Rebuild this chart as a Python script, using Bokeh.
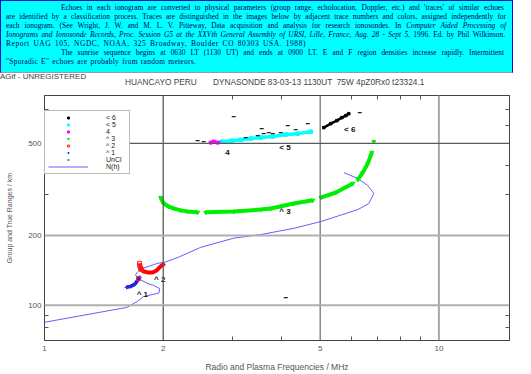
import math
from bokeh.plotting import figure
from bokeh.models import (Div, Span, FixedTicker, LogAxis, Legend, LegendItem,
                          CustomJSTickFormatter)
from bokeh.layouts import column
from bokeh.embed import file_html
from bokeh.resources import INLINE
from bokeh.core.properties import value

NaN = float("nan")

# ---------------- data ----------------
nh_freq = [1.00, 1.62, 1.72, 1.78, 1.95, 1.96, 1.89, 1.83, 1.75, 1.70, 1.72, 1.75, 1.83,
           1.94, 2.01, 2.18, 2.49, 3.02, 3.53, 4.29, 5.02, 6.23, 6.64, 6.84, 6.60, 6.23, 5.74]
nh_height = [84.5, 98, 104, 109, 113, 118, 122, 124, 129, 135, 139, 143, 147,
             152, 153, 161, 178, 195, 202, 215, 230, 259, 275, 304, 329, 353, 374]

t1_freq = [1.615, 1.653, 1.692, 1.722, 1.742]
t1_range = [119.6, 120.7, 123.2, 128, 132]

t2_freq = [1.742, 1.752, 1.783, 1.826, 1.880, 1.924, 1.970, 2.017]
t2_range = [151.7, 144.3, 140, 138.7, 138.7, 141.5, 147.3, 151.7]
t2_pts_freq = [1.742, 1.745, 1.752, 1.760, 1.732]
t2_pts_range = [151.7, 148, 145, 143, 130.7]

t3_freq = [1.970, 2.005, 2.064, 2.125, 2.214, 2.307, 2.445, NaN, 2.563, 3.018, 3.534, 3.747,
           4.285, 4.788, NaN, 5.018, 5.479, 6.05, NaN, 6.23, 6.41, 6.60, 6.76, NaN, 6.84]
t3_range = [292, 275, 267, 262, 257, 254, 252, NaN, 252, 254, 259, 262,
            275, 284, NaN, 292, 307, 336, NaN, 349, 374, 409, 457, NaN, 509]

t4_freq = [2.638, 2.685, 2.749, 2.813]
t4_range = [504, 509, 504, 507]

t5_freq = [2.83, 2.983, 3.145, 3.333, 3.534, 3.79, 4.09, 4.387, 4.733]
t5_range = [509, 514, 518, 525, 530, 535, 546, 551, 562]

t6_freq = [5.107, 5.32, 5.51, 5.674, 5.807, 5.909]
t6_range = [585, 609, 627, 646, 659, 672]

uncl_freq = [2.445, 2.533, 3.018, 3.237, 3.472, 3.554, 3.596, 3.703, 3.79, 3.972, 4.138,
             4.335, 4.651, 6.30, 4.09]
uncl_range = [514, 509, 652, 530, 540, 579, 551, 557, 551, 557, 597, 574, 609, 679, 108]

lab_text = ["< 6", "< 5", "4", "^ 3", "^ 2", "^ 1"]
lab_freq = [5.94, 4.07, 2.91, 4.07, 1.96, 1.77]
lab_range = [574, 480, 457, 254, 129, 111.5]

legend_labels = ["< 6", "< 5", "4", "^ 3", "^ 2", "^ 1", "UnCl", "N(h)"]

x_ticks = [1, 2, 5, 10]
x_minor = [3, 4, 6, 7, 8, 9]
y_ticks = [100, 200, 500]
y_minor = [80, 90, 300, 400, 600, 700]
x_grid = [2, 5, 10]
y_grid = [100, 200, 500]

header_lines = [
    "Echoes in each ionogram are converted to physical parameters (group range, echolocation, Doppler, etc.) and 'traces' of similar echoes",
    "are identified by a classification process. Traces are distinguished in the images below by adjacent trace numbers and colors, assigned independently for",
    "each ionogram. (See Wright, J. W. and M. L. V. Pitteway, Data acquisition and analysis for research ionosondes. In <i>Computer Aided Processing of</i>",
    "<i>Ionograms and Ionosonde Records, Proc. Session G5 at the XXVth General Assembly of URSI, Lille, France, Aug. 28 - Sept 5</i>, 1996. Ed. by Phil Wilkinson.",
    "Report UAG 105, NGDC, NOAA, 325 Broadway, Boulder CO 80303 USA. 1988)",
    "The sunrise sequence begins at 0630 LT (1130 UT) and ends at 0900 LT. E and F region densities increase rapidly. Intermittent",
    "\"Sporadic E\" echoes are probably from random meteors.",
]
# left, right, vertical centre, letter spacing of each header line (px)
header_geom = [(61, 504, 7.4, 0), (6, 506, 16.2, 0), (6, 506, 25.4, 0), (6, 505, 34.5, 0),
               (6, 306, 43.3, 0.6), (61, 504, 52.4, 0), (6, 196, 61.9, 0.3)]

# ---------------- header (HTML) ----------------
parts = ['<div style="position:relative;width:531px;height:87px;margin:0;padding:0;overflow:hidden;">',
         '<div style="position:absolute;left:0;top:0;width:513px;height:73px;box-sizing:border-box;'
         'background:#00ffff;border:1px solid #1010c8;border-bottom-color:#9a9a9a;"></div>']
for txt, (l, r, c, ls) in zip(header_lines, header_geom):
    parts.append(
        f'<div style="position:absolute;left:{l}px;top:{c-4.5:.1f}px;width:{r-l}px;height:9px;'
        f'line-height:9px;white-space:nowrap;text-align:justify;text-align-last:justify;letter-spacing:{ls}px;'
        "font-family:'Liberation Serif',serif;font-size:7.4px;color:#00006e;\">"
        f'{txt}</div>')
parts.append('<div style="position:absolute;left:0;top:72px;line-height:10px;white-space:nowrap;'
             "font-family:'Liberation Sans',sans-serif;font-size:8px;color:#444;\">AGif - UNREGISTERED</div>")
parts.append('<div style="position:absolute;left:125px;top:76.5px;line-height:10px;white-space:nowrap;'
             "font-family:'Liberation Sans',sans-serif;font-size:8.3px;color:#444;\">HUANCAYO PERU</div>")
parts.append('<div style="position:absolute;left:213px;top:76.5px;line-height:10px;white-space:pre;'
             "font-family:'Liberation Sans',sans-serif;font-size:8.3px;color:#444;\">"
             'DYNASONDE 83-03-13 1130UT  75W 4pZ0Rx0 t23324.1</div>')
parts.append('</div>')
header = Div(text="".join(parts), width=531, height=87, margin=0)

# ---------------- figure ----------------
p = figure(width=531, height=287, x_axis_type="log", y_axis_type="log",
           x_range=(1, 15.1), y_range=(70.5, 805),
           output_backend="svg", toolbar_location=None,
           min_border_left=44, min_border_right=22, min_border_top=8, min_border_bottom=33,
           background_fill_color="white", border_fill_color="white")
p.xgrid.visible = False
p.ygrid.visible = False
p.outline_line_color = "#444"
p.margin = 0

label_font = "Liberation Sans"

def style_axis(ax, ticks, minor, labels=True):
    ax.ticker = FixedTicker(ticks=ticks, minor_ticks=minor)
    ax.axis_line_color = "#444"
    ax.major_tick_in = 0
    ax.major_tick_out = 0
    ax.minor_tick_in = 4
    ax.minor_tick_out = 0
    ax.minor_tick_line_color = "#555"
    if labels:
        ax.major_label_text_font = label_font
        ax.major_label_text_font_size = "8px"
        ax.major_label_text_color = "#555"
    else:
        ax.formatter = CustomJSTickFormatter(code="return ''")
        ax.major_label_text_font_size = "0px"
        ax.major_label_standoff = 0

style_axis(p.xaxis[0], x_ticks, x_minor)
style_axis(p.yaxis[0], y_ticks, y_minor)
p.xaxis[0].major_label_standoff = 5
p.yaxis[0].major_label_standoff = 3
p.xaxis[0].axis_label = "Radio and Plasma Frequencies / MHz"
p.xaxis[0].axis_label_text_font = label_font
p.xaxis[0].axis_label_text_font_size = "8.5px"
p.xaxis[0].axis_label_text_font_style = "normal"
p.xaxis[0].axis_label_text_color = "#555"
p.xaxis[0].axis_label_standoff = 8
p.yaxis[0].axis_label = "Group and True Ranges / km"
p.yaxis[0].axis_label_text_font = label_font
p.yaxis[0].axis_label_text_font_size = "7px"
p.yaxis[0].axis_label_text_font_style = "normal"
p.yaxis[0].axis_label_text_color = "#555"
p.yaxis[0].axis_label_standoff = 12

top_ax = LogAxis()
style_axis(top_ax, x_ticks, x_minor, labels=False)
p.add_layout(top_ax, "above")
right_ax = LogAxis()
style_axis(right_ax, y_ticks, y_minor, labels=False)
p.add_layout(right_ax, "right")

# grid lines
x_grid_col = ["#5a5a5a", "#6a6a6a", "#a8a8a8"]
x_grid_w = [1.3, 1.2, 2]
for loc, c, w in zip(x_grid, x_grid_col, x_grid_w):
    p.add_layout(Span(location=loc, dimension="height", line_color=c, line_width=w))
y_grid_col = ["#b0b0b0", "#b0b0b0", "#5a5a5a"]
y_grid_w = [2, 2, 1.2]
for loc, c, w in zip(y_grid, y_grid_col, y_grid_w):
    p.add_layout(Span(location=loc, dimension="width", line_color=c, line_width=w))

# N(h) profile
r_nh = p.line(nh_freq, nh_height, line_color="#6060ff", line_width=1)

# traces (thick)
p.line(t1_freq, t1_range, line_color="#1818d0", line_width=3.5)
p.line(t2_freq, t2_range, line_color="#ff0000", line_width=4)
p.line(t3_freq, t3_range, line_color="#00ee00", line_width=4)
p.line(t4_freq, t4_range, line_color="#ff00ff", line_width=3)
p.line(t5_freq, t5_range, line_color="#00ffff", line_width=3.5)
p.line(t6_freq, t6_range, line_color="#000000", line_width=2.5)

r1 = p.scatter(t1_freq, t1_range, marker="cross", size=4, line_color="#3030e8", line_width=1.2)
r2 = p.scatter(t2_pts_freq, t2_pts_range, marker="square", size=4, fill_color=None,
               line_color="#ff2020", line_width=1)
r3 = p.scatter(t3_freq, t3_range, marker="inverted_triangle", size=4, color="#00ee00")
r4 = p.scatter(t4_freq, t4_range, marker="square", size=3, color="#ff00ff")
r5 = p.scatter(t5_freq, t5_range, marker="square", size=3.5, color="#00ffff")
r6 = p.scatter(t6_freq, t6_range, marker="square", size=2.5, color="#000000")
ru = p.scatter(uncl_freq, uncl_range, marker="dash", size=4, line_color="#222222", line_width=1.2)

p.text(x=lab_freq, y=lab_range, text=lab_text, text_font=value(label_font),
       text_font_size=value("8px"), text_font_style="bold", text_color="#111111",
       text_align="center", text_baseline="middle")

legend = Legend(
    items=[LegendItem(label=lab, renderers=[r]) for lab, r in
           zip(legend_labels, [r6, r5, r4, r3, r2, r1, ru, r_nh])],
    location=(0, 166), orientation="vertical", padding=3, spacing=0, margin=0,
    glyph_width=40, glyph_height=5, label_height=5, label_standoff=18,
    label_text_font=label_font, label_text_font_size="7px",
    label_text_color="#222",
    border_line_color="#777", background_fill_color="white", background_fill_alpha=1.0)
p.add_layout(legend)

layout = column(header, p, spacing=0, margin=0)
open("out.html", "w").write(file_html(layout, INLINE))
